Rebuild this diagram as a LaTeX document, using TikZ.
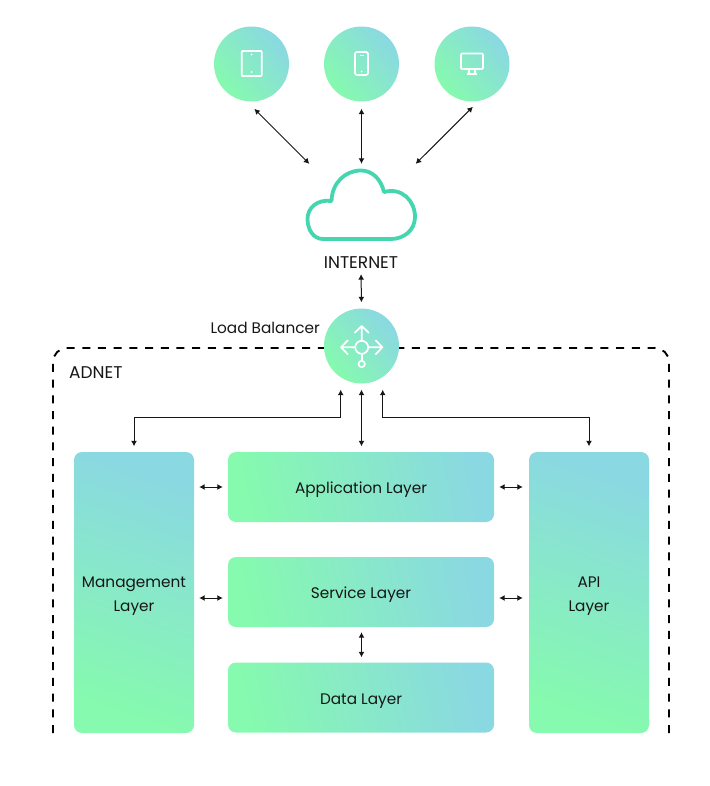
\documentclass[tikz,border=0pt]{standalone}
\usepackage{fontspec}
\usetikzlibrary{arrows.meta}
\setmainfont{Poppins}
\definecolor{gradgreen}{HTML}{86FAAE}
\definecolor{gradblue}{HTML}{8AD8E2}
\definecolor{cloudline}{HTML}{45D6B0}
\definecolor{inktext}{HTML}{161616}
\tikzset{
  label text/.style={text=inktext,font=\fontsize{15.3}{24}\selectfont,inner sep=0pt},
  caps text/.style={text=inktext,font=\fontsize{17}{24}\selectfont,inner sep=0pt},
  round hub/.style={circle,minimum size=75pt,inner sep=0pt,shading=axis,left color=gradgreen,right color=gradblue,shading angle=130},
  wide layer/.style={rectangle,rounded corners=8pt,minimum width=266pt,minimum height=70pt,inner sep=0pt,text height=13pt,text depth=0pt,shading=axis,left color=gradgreen,right color=gradblue,shading angle=102},
  tall layer/.style={rectangle,rounded corners=8pt,minimum width=120pt,minimum height=281pt,inner sep=0pt,align=center,text height=38pt,text depth=0pt,shading=axis,left color=gradgreen,right color=gradblue,shading angle=160},
  link/.style={color=inktext,line width=1pt,{Latex[length=5.5pt,width=6pt]}-{Latex[length=5.5pt,width=6pt]}},
  icon line/.style={color=white,line width=1.7pt,line join=round}
}
\begin{document}
\begin{tikzpicture}[x=1pt,y=-1pt]
\useasboundingbox (0,0) rectangle (709,786);

% The dashed frame, open at the bottom
\draw[color=black,line width=1.9pt,dash pattern=on 8pt off 7.7pt,rounded corners=14pt] (53,733) -- (53,348) -- (669,348) -- (669,733);
\node[caps text,anchor=west] (adnet) at (69,373) {ADNET};

% The devices
\node[round hub] (tablet) at (251.5,64) {};
\node[round hub] (phone) at (361.5,64) {};
\node[round hub] (desktop) at (472,64) {};
\draw[icon line,rounded corners=.8pt] (241.7,51) rectangle (261.7,76);
\fill[white] (251.7,54.5) circle (1) (251.7,72) circle (1);
\draw[icon line,rounded corners=1.5pt] (355,52) rectangle (368,75);
\draw[white,line width=1pt] (359.5,55.5) -- (363.5,55.5);
\fill[white] (361.5,71.5) circle (1);
\draw[icon line,rounded corners=1pt] (461,53.5) rectangle (483,69);
\draw[icon line] (469,69) -- (469,73.5) -- (475,73.5) -- (475,69);
\draw[icon line] (467,73.8) -- (477,73.8);

% The cloud
\node[minimum width=110pt,minimum height=72pt,inner sep=0pt] (cloud) at (361.5,205) {};
\draw[color=cloudline,line width=3.8pt,line join=round] (323,239) .. controls (313,239) and (307.5,229) .. (307.5,219) .. controls (307.5,208) and (317,199) .. (331.5,201) .. controls (332,183) and (345,170.5) .. (361,170.5) .. controls (372,170.5) and (381,179) .. (384,192) .. controls (402,187) and (415,201) .. (415,217) .. controls (415,230) and (404,239) .. (391,239) -- cycle;
\node[caps text] (internet) at (361,263) {INTERNET};

% The load balancer
\node[round hub] (balancer) at (361.5,346) {};
\node[label text,anchor=east] (balancerlabel) at (320,328) {Load Balancer};
\draw[icon line] (361.7,347.3) circle (6.5);
\draw[icon line] (361.7,364) circle (3.2);
\draw[icon line] (361.7,353.8) -- (361.7,360.8);
\draw[icon line] (361.7,340.8) -- (361.7,326) (354.5,333) -- (361.7,326) -- (368.9,333);
\draw[icon line] (355.2,347.3) -- (341,347.3) (348,340.1) -- (341,347.3) -- (348,354.5);
\draw[icon line] (368.2,347.3) -- (382.4,347.3) (375.4,340.1) -- (382.4,347.3) -- (375.4,354.5);

% The layers
\node[tall layer,label text] (management) at (134,592.5) {Management\\Layer};
\node[tall layer,label text] (api) at (589,592.5) {API\\Layer};
\node[wide layer,label text] (application) at (361,487) {Application Layer};
\node[wide layer,label text] (service) at (361,592) {Service Layer};
\node[wide layer,label text] (data) at (361,697.5) {Data Layer};

% Arrows above the load balancer
\draw[link,shorten <=10.5pt,shorten >=7pt] (tablet.-97) -- ([xshift=8pt]cloud.north west);
\draw[link,shorten <=7pt,shorten >=5pt] (phone.south) -- (cloud.north);
\draw[link,shorten <=8pt,shorten >=7pt] (desktop.-80) -- ([xshift=-6pt]cloud.north east);
\draw[link,shorten <=5pt,shorten >=6pt] (internet.south) -- (balancer.north);

% Arrows below the load balancer
\coordinate (busleft) at (340.7,417);
\coordinate (busright) at (382.7,417);
\draw[link,shorten <=5.5pt,shorten >=6pt] (management.north) -- (management.north |- busleft) -- (busleft) -- (busleft |- balancer.south);
\draw[link,shorten <=5.5pt,shorten >=6pt] (api.north) -- (api.north |- busright) -- (busright) -- (busright |- balancer.south);
\draw[link,shorten <=6pt,shorten >=5.5pt] (balancer.south) -- (balancer.south |- application.north);

% Arrows between the layers
\draw[link,shorten <=5pt,shorten >=5pt] (management.east |- application) -- (application.west);
\draw[link,shorten <=5pt,shorten >=6pt] (application.east) -- (api.west |- application);
\draw[link,shorten <=5pt,shorten >=5pt] ([yshift=-6pt]management.east |- service) -- ([yshift=-6pt]service.west);
\draw[link,shorten <=5pt,shorten >=6pt] ([yshift=-6pt]service.east) -- ([yshift=-6pt]api.west |- service);
\draw[link,shorten <=5pt,shorten >=5pt] (balancer.south |- service.south) -- (balancer.south |- data.north);

\end{tikzpicture}
\end{document}
